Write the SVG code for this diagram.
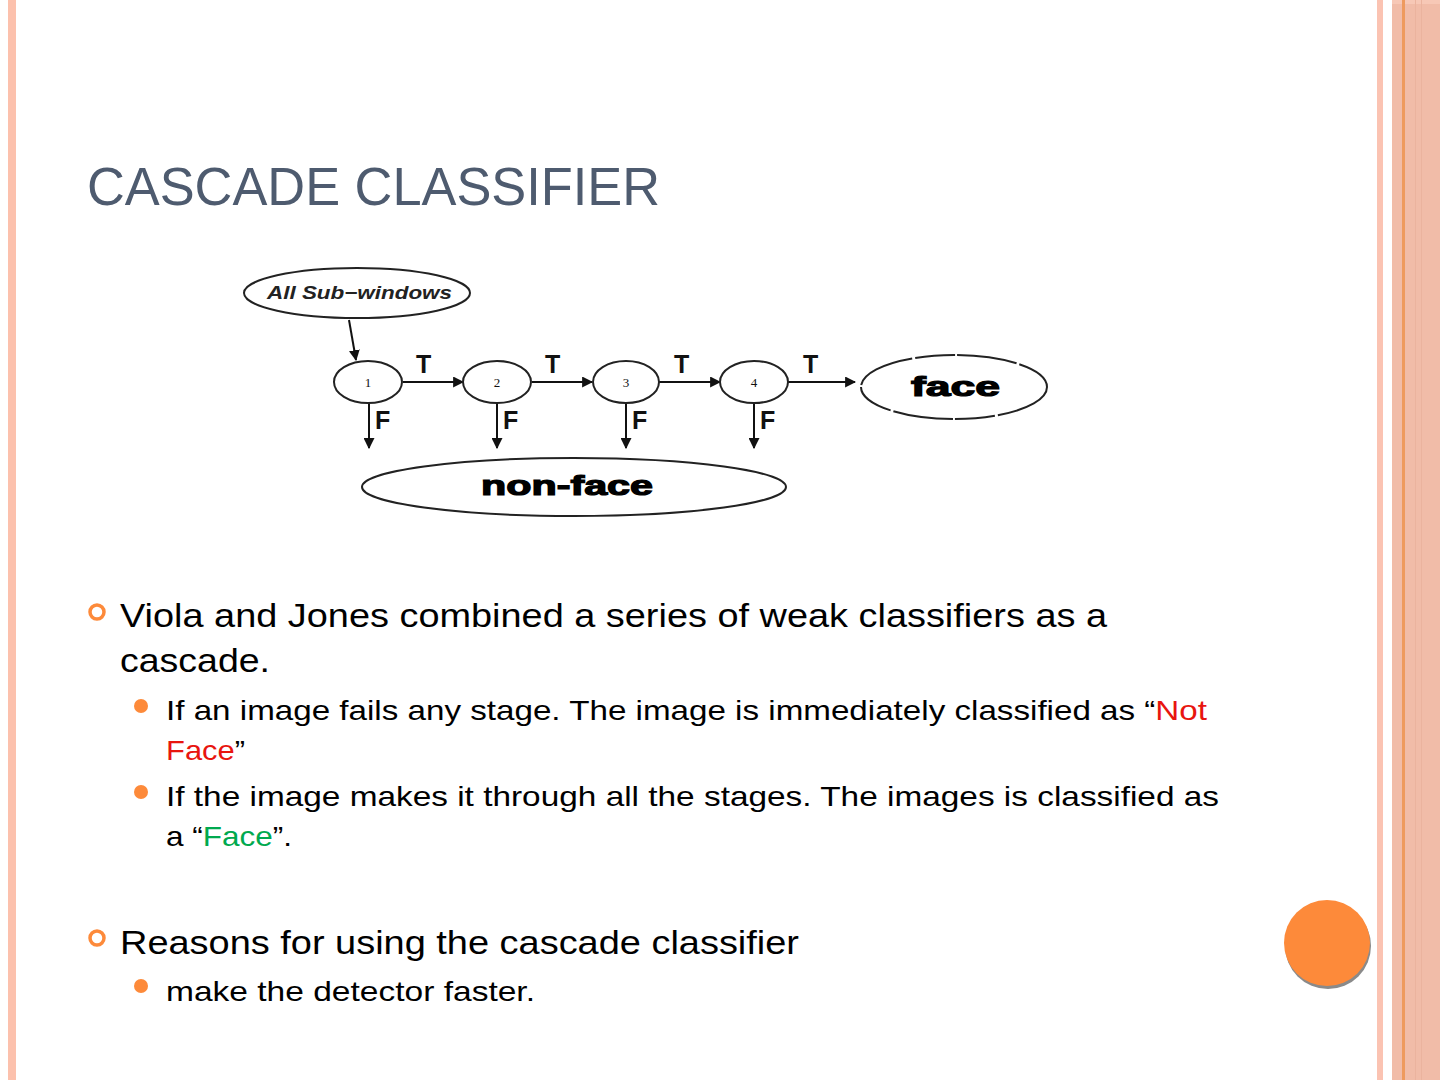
<svg xmlns="http://www.w3.org/2000/svg" width="1440" height="1080" viewBox="0 0 1440 1080">
<defs>
<style>
.ln{stroke:#111;stroke-width:2;fill:none}
.nd{fill:#fff;stroke:#222;stroke-width:2}
.num{font-family:"Liberation Serif",serif;font-size:13px;fill:#111;text-anchor:middle}
.lab{font-family:"Liberation Sans",Arial,sans-serif;font-weight:bold;font-size:25px;fill:#111}
.big{font-family:"Liberation Sans",Arial,sans-serif;font-weight:bold;fill:#000;stroke:#000;stroke-width:1.2}
.b1{font-family:"Liberation Sans",Arial,sans-serif;font-size:34px;fill:#000}
.b2{font-family:"Liberation Sans",Arial,sans-serif;font-size:28px;fill:#000}
.red{fill:#e8150f}
.grn{fill:#00a94f}
.hb{fill:none;stroke:#fd8a3a;stroke-width:3.5}
.fb{fill:#fd8a3a}
</style>
<marker id="ahb" viewBox="0 0 10 10" refX="9" refY="5" markerWidth="11" markerHeight="11" orient="auto" markerUnits="userSpaceOnUse">
<path d="M0,0 L10,5 L0,10 z" fill="#111"/>
</marker>
</defs>
<rect width="1440" height="1080" fill="#fff"/>
<rect x="8" y="0" width="8" height="1080" fill="#fcc1ad"/>
<rect x="1377" y="0" width="6" height="1080" fill="#fbc3b2"/>
<rect x="1392" y="0" width="48" height="1080" fill="#f1bca8"/>
<rect x="1392" y="0" width="48" height="4" fill="#f7c8b6"/>
<rect x="1402" y="0" width="3" height="1080" fill="#ee9a5e"/>
<rect x="1415" y="0" width="1" height="1080" fill="#ebb39e"/>
<rect x="1421" y="0" width="1" height="1080" fill="#ebb39e"/>

<text x="87" y="205" font-family="Liberation Sans,Arial,sans-serif" font-size="54" fill="#4e5b6f" textLength="573" lengthAdjust="spacingAndGlyphs">CASCADE CLASSIFIER</text>

<g id="connectors">
<line class="ln" x1="349" y1="320" x2="356" y2="360" marker-end="url(#ahb)"/>
<line class="ln" x1="403" y1="382" x2="463" y2="382" marker-end="url(#ahb)"/>
<line class="ln" x1="532" y1="382" x2="592" y2="382" marker-end="url(#ahb)"/>
<line class="ln" x1="659" y1="382" x2="720" y2="382" marker-end="url(#ahb)"/>
<line class="ln" x1="788" y1="382" x2="855" y2="382" marker-end="url(#ahb)"/>
<line class="ln" x1="369" y1="403" x2="369" y2="448" marker-end="url(#ahb)"/>
<line class="ln" x1="497" y1="403" x2="497" y2="448" marker-end="url(#ahb)"/>
<line class="ln" x1="626" y1="403" x2="626" y2="448" marker-end="url(#ahb)"/>
<line class="ln" x1="754" y1="403" x2="754" y2="448" marker-end="url(#ahb)"/>
<text class="lab" x="416" y="373">T</text>
<text class="lab" x="545" y="373">T</text>
<text class="lab" x="674" y="373">T</text>
<text class="lab" x="803" y="373">T</text>
<text class="lab" x="375" y="429">F</text>
<text class="lab" x="503" y="429">F</text>
<text class="lab" x="632" y="429">F</text>
<text class="lab" x="760" y="429">F</text>
</g>

<g id="node-all">
<ellipse class="nd" cx="357" cy="293" rx="113" ry="25"/>
<text x="267" y="299" font-family="Liberation Sans,Arial,sans-serif" font-size="18" font-style="italic" font-weight="bold" fill="#222" textLength="185" lengthAdjust="spacingAndGlyphs">All Sub−windows</text>
</g>
<g id="node-1"><ellipse class="nd" cx="368" cy="382" rx="34" ry="21"/><text class="num" x="368" y="387">1</text></g>
<g id="node-2"><ellipse class="nd" cx="497" cy="382" rx="34" ry="21"/><text class="num" x="497" y="387">2</text></g>
<g id="node-3"><ellipse class="nd" cx="626" cy="382" rx="33" ry="21"/><text class="num" x="626" y="387">3</text></g>
<g id="node-4"><ellipse class="nd" cx="754" cy="382" rx="34" ry="21"/><text class="num" x="754" y="387">4</text></g>
<g id="node-face">
<ellipse class="nd" cx="954" cy="387" rx="93" ry="32" stroke-dasharray="60 3 40 2"/>
<text class="big" x="911" y="396" font-size="27" textLength="89" lengthAdjust="spacingAndGlyphs">face</text>
</g>
<g id="node-nonface">
<ellipse class="nd" cx="574" cy="487" rx="212" ry="29"/>
<text class="big" x="481" y="495" font-size="27" textLength="172" lengthAdjust="spacingAndGlyphs">non-face</text>
</g>

<circle class="hb" cx="97" cy="612" r="7"/>
<text class="b1" x="120" y="627" textLength="987" lengthAdjust="spacingAndGlyphs">Viola and Jones combined a series of weak classifiers as a</text>
<text class="b1" x="120" y="672" textLength="150" lengthAdjust="spacingAndGlyphs">cascade.</text>
<circle class="fb" cx="141" cy="706" r="7"/>
<text class="b2" x="166" y="720" textLength="1041" lengthAdjust="spacingAndGlyphs">If an image fails any stage. The image is immediately classified as “<tspan class="red">Not</tspan></text>
<text class="b2" x="166" y="760" textLength="79" lengthAdjust="spacingAndGlyphs"><tspan class="red">Face</tspan>”</text>
<circle class="fb" cx="141" cy="792" r="7"/>
<text class="b2" x="166" y="806" textLength="1053" lengthAdjust="spacingAndGlyphs">If the image makes it through all the stages. The images is classified as</text>
<text class="b2" x="166" y="846" textLength="126" lengthAdjust="spacingAndGlyphs">a “<tspan class="grn">Face</tspan>”.</text>
<circle class="hb" cx="97" cy="938" r="7"/>
<text class="b1" x="120" y="954" textLength="679" lengthAdjust="spacingAndGlyphs">Reasons for using the cascade classifier</text>
<circle class="fb" cx="141" cy="986" r="7"/>
<text class="b2" x="166" y="1001" textLength="369" lengthAdjust="spacingAndGlyphs">make the detector faster.</text>

<circle cx="1328" cy="946" r="43" fill="#8a8a8a"/>
<circle cx="1327" cy="943" r="43" fill="#fd8a3a"/>
</svg>
